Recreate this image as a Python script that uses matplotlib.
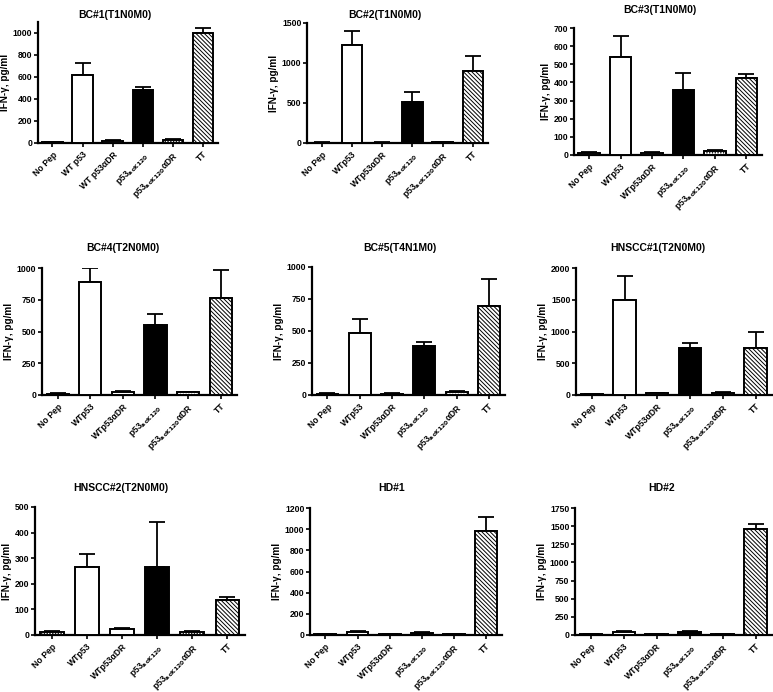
import numpy as np
import matplotlib
matplotlib.use("Agg")
import matplotlib.pyplot as plt

plt.rcParams['font.family'] = ['Liberation Sans', 'DejaVu Sans']
plt.rcParams['font.weight'] = 'bold'
plt.rcParams['mathtext.default'] = 'bf'
plt.rcParams['hatch.linewidth'] = 0.7

# donnees
titles = ["BC#1(T1N0M0)", "BC#2(T1N0M0)", "BC#3(T1N0M0)",
          "BC#4(T2N0M0)", "BC#5(T4N1M0)", "HNSCC#1(T2N0M0)",
          "HNSCC#2(T2N0M0)", "HD#1", "HD#2"]

labels_bc1 = ["No Pep", "WT p53", "WT p53αDR", "p53$_{acK120}$", "p53$_{acK120}$αDR", "TT"]
labels = ["No Pep", "WTp53", "WTp53αDR", "p53$_{acK120}$", "p53$_{acK120}$αDR", "TT"]

means = [
    [10, 615, 20, 478, 30, 1000],
    [5, 1220, 5, 515, 10, 900],
    [10, 540, 10, 361, 22, 427],
    [10, 890, 25, 550, 20, 764],
    [10, 486, 10, 384, 25, 698],
    [10, 1503, 25, 733, 35, 733],
    [12, 266, 22, 265, 12, 138],
    [10, 30, 10, 20, 10, 980],
    [10, 45, 8, 45, 8, 1465],
]
errs = [
    [3, 110, 5, 32, 5, 47],
    [3, 175, 3, 117, 3, 190],
    [4, 118, 4, 93, 4, 22],
    [3, 110, 5, 89, 4, 218],
    [3, 110, 4, 32, 5, 208],
    [5, 365, 6, 80, 6, 265],
    [3, 51, 4, 175, 3, 11],
    [3, 8, 3, 6, 3, 135],
    [3, 10, 3, 10, 3, 70],
]
ylims = [1100, 1500, 700, 1000, 1000, 2000, 500, 1200, 1750]
ysteps = [200, 500, 100, 250, 250, 500, 100, 200, 250]

facecols = ["white", "white", "white", "black", "white", "white"]
hatches = ["......", None, None, None, "......", "\\\\\\\\\\\\\\\\"]

# positions en pixels: gauche, droite, bas (0), haut
W, H = 773, 692
boxes = [(38, 218, 143, 22), (307, 488, 143, 23), (574, 762, 155, 28),
         (42, 237, 395, 268), (312, 505, 395, 267), (576, 772, 395, 268),
         (35, 245, 635, 507), (310, 502, 635, 508), (575, 772, 635, 508)]
title_pos = [(115, 15), (385, 15), (660, 10),
             (123, 248), (400, 248), (658, 248),
             (121, 488), (392, 488), (662, 488)]

fig = plt.figure(figsize=(W / 100, H / 100), dpi=100)

for i in range(9):
    l, r, b, t = boxes[i]
    ax = fig.add_axes([l / W, 1 - b / H, (r - l) / W, (b - t) / H])
    x = np.arange(6)
    ax.bar(x, means[i], width=0.68, color=facecols, edgecolor="black",
           linewidth=1.4, hatch=hatches, zorder=3)
    ax.errorbar(x, means[i], yerr=[np.zeros(6), errs[i]], fmt="none",
                ecolor="black", elinewidth=1.3, capsize=5.5, capthick=1.3, zorder=2)
    ax.set_xlim(-0.48, 5.5)
    ax.set_ylim(0, ylims[i])
    ax.set_yticks(np.arange(0, ylims[i] + 1, ysteps[i]))
    ax.set_xticks(x)
    ax.set_xticklabels(labels_bc1 if i == 0 else labels, rotation=45,
                       ha="right", rotation_mode="anchor", fontsize=6.2)
    ax.tick_params(axis="y", labelsize=6.2, length=3, width=1.2, pad=1)
    ax.tick_params(axis="x", length=3, width=1.2, pad=2)
    for s in ["top", "right"]:
        ax.spines[s].set_visible(False)
    for s in ["left", "bottom"]:
        ax.spines[s].set_linewidth(1.6)
    ax.set_ylabel("IFN-γ, pg/ml", fontsize=7.2, fontweight="bold", labelpad=2)
    tx, ty = title_pos[i]
    fig.text(tx / W, 1 - ty / H, titles[i], ha="center", va="center",
             fontsize=7.5, fontweight="bold")

fig.savefig("out.png", dpi=100)
